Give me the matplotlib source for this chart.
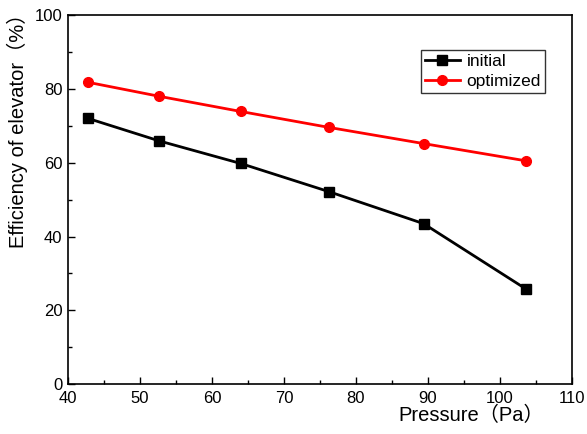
import matplotlib.pyplot as plt
from matplotlib.ticker import MultipleLocator

plt.rcParams['font.family'] = ['Liberation Sans', 'Noto Sans CJK SC', 'DejaVu Sans']

# Donnees
pression = [42.8, 52.7, 64.0, 76.2, 89.4, 103.7]
eff_initial = [72.0, 65.9, 59.8, 52.2, 43.5, 25.7]
eff_optimise = [81.8, 78.0, 73.9, 69.6, 65.2, 60.5]

fig = plt.figure(figsize=(5.87, 4.34), dpi=100)
ax = fig.add_axes([0.116, 0.115, 0.858, 0.85])

ax.plot(pression, eff_initial, color='black', marker='s', markersize=6.5, linewidth=2, label='initial')
ax.plot(pression, eff_optimise, color='red', marker='o', markersize=7, linewidth=2, label='optimized')

# Axes
ax.set_xlim(40, 110)
ax.set_ylim(0, 100)
ax.xaxis.set_major_locator(MultipleLocator(10))
ax.xaxis.set_minor_locator(MultipleLocator(5))
ax.yaxis.set_major_locator(MultipleLocator(20))
ax.yaxis.set_minor_locator(MultipleLocator(10))
ax.tick_params(which='both', direction='in', top=False, right=False, labelsize=12, width=1)
ax.tick_params(which='major', length=5)
ax.tick_params(which='minor', length=3)
ax.tick_params(axis='x', pad=5)
ax.tick_params(axis='y', pad=4)
for s in ax.spines.values():
    s.set_linewidth(1.2)

ax.set_xlabel('Pressure（Pa）', fontsize=14.5)
ax.xaxis.set_label_coords(0.80, -0.06)
ax.set_ylabel('Efficiency of elevator（%）', fontsize=14.5)
ax.yaxis.set_label_coords(-0.08, 0.70)

leg = ax.legend(loc='upper right', bbox_to_anchor=(0.965, 0.93), fontsize=12.5, frameon=True,
                fancybox=False, edgecolor='black', handlelength=2.0, borderpad=0.25,
                labelspacing=0.25, handletextpad=0.4)
leg.get_frame().set_linewidth(1)

fig.savefig('out.png', dpi=100)
